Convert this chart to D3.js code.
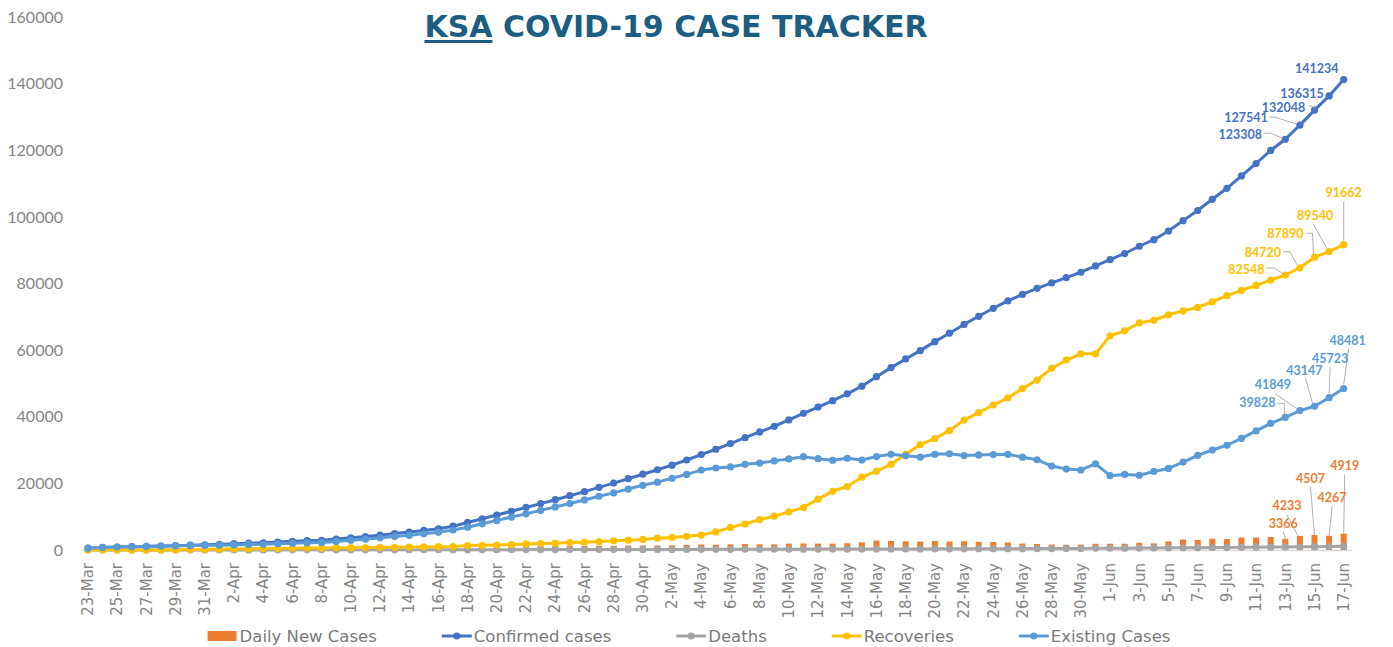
<!DOCTYPE html>
<html>
<head>
<meta charset="utf-8">
<script src="https://cdn.jsdelivr.net/npm/d3@7"></script>
<style>
  body { margin: 0; background: #fff; }
  svg { display: block; }
</style>
</head>
<body>
<div id="chart"></div>
<script>
// categories (one per day, 23-Mar .. 17-Jun)
let dates = [
  "23-Mar","24-Mar","25-Mar","26-Mar","27-Mar","28-Mar","29-Mar","30-Mar","31-Mar",
  "1-Apr","2-Apr","3-Apr","4-Apr","5-Apr","6-Apr","7-Apr","8-Apr","9-Apr","10-Apr",
  "11-Apr","12-Apr","13-Apr","14-Apr","15-Apr","16-Apr","17-Apr","18-Apr","19-Apr","20-Apr",
  "21-Apr","22-Apr","23-Apr","24-Apr","25-Apr","26-Apr","27-Apr","28-Apr","29-Apr","30-Apr",
  "1-May","2-May","3-May","4-May","5-May","6-May","7-May","8-May","9-May","10-May",
  "11-May","12-May","13-May","14-May","15-May","16-May","17-May","18-May","19-May","20-May",
  "21-May","22-May","23-May","24-May","25-May","26-May","27-May","28-May","29-May","30-May","31-May",
  "1-Jun","2-Jun","3-Jun","4-Jun","5-Jun","6-Jun","7-Jun","8-Jun","9-Jun","10-Jun",
  "11-Jun","12-Jun","13-Jun","14-Jun","15-Jun","16-Jun","17-Jun"
];

let dailyNew = [
  51,205,133,112,92,99,96,154,110,
  157,165,154,140,223,203,190,137,355,364,
  382,429,472,435,493,518,762,1132,1088,1122,
  1147,1141,1158,1172,1197,1223,1289,1266,1325,1351,
  1344,1362,1552,1645,1595,1687,1793,1701,1704,1912,
  1966,1911,1905,2039,2307,2840,2736,2593,2509,2691,
  2532,2642,2442,2399,2235,1931,1815,1644,1581,1618,1877,
  1881,1869,2171,1975,2591,3121,3045,3369,3288,3717,
  3733,3921,3366,4233,4507,4267,4919
];

let confirmed = [
  562,767,900,1012,1104,1203,1299,1453,1563,
  1720,1885,2039,2179,2402,2605,2795,2932,3287,3651,
  4033,4462,4934,5369,5862,6380,7142,8274,9362,10484,
  11631,12772,13930,15102,16299,17522,18811,20077,21402,22753,
  24097,25459,27011,28656,30251,31938,33731,35432,37136,39048,
  41014,42925,44830,46869,49176,52016,54752,57345,59854,62545,
  65077,67719,70161,72560,74795,76726,78541,80185,81766,83384,85261,
  87142,89011,91182,93157,95748,98869,101914,105283,108571,112288,
  116021,119942,123308,127541,132048,136315,141234
];

let deaths = [
  0,1,1,3,3,4,8,8,10,
  16,21,25,29,34,38,41,41,44,47,
  52,59,65,73,79,83,87,92,97,103,
  109,114,121,127,136,139,144,152,157,162,
  169,176,184,191,200,209,219,229,239,246,
  255,264,273,283,292,302,312,320,329,339,
  351,364,379,390,399,411,425,441,458,480,503,
  525,549,579,611,642,676,712,746,783,819,
  857,893,932,972,1011,1052,1091
];

let recoveries = [
  19,28,29,33,35,37,66,115,165,
  264,328,351,420,488,551,615,631,666,685,
  720,761,805,889,931,990,1049,1329,1398,1490,
  1640,1812,1925,2049,2215,2357,2531,2784,2953,3163,
  3555,3765,4134,4476,5431,6783,7798,9120,10144,11457,
  12737,15257,17622,19051,21869,23666,25722,28748,31634,33478,
  35836,39003,41236,43520,45668,48450,51022,54553,57013,58883,58883,
  64306,65790,68159,68965,70616,71791,72817,74524,76339,77954,
  79415,81029,82548,84720,87890,89540,91662
];

let existing = [
  543,738,870,976,1066,1162,1225,1330,1388,
  1440,1536,1663,1730,1880,2016,2139,2260,2577,2919,
  3261,3642,4064,4407,4852,5307,6006,6853,7867,8891,
  9882,10846,11884,12926,13948,15026,16136,17141,18292,19428,
  20373,21518,22693,23989,24620,24946,25714,26083,26753,27345,
  28022,27404,26935,27535,27015,28048,28718,28277,27891,28728,
  28890,28352,28546,28650,28728,27865,27094,25191,24295,24021,25875,
  22311,22672,22444,23581,24490,26402,28385,30013,31449,33515,
  35749,38020,39828,41849,43147,45723,48481
];

let yTicks = [0,20000,40000,60000,80000,100000,120000,140000,160000];

// data labels on the last days: [series, day index, dx, dy, leader points relative to the mark]
let dataLabels = [
  ["confirmed", 86, -27, -6.5, null],
  ["confirmed", 85, -27, 2, null],
  ["confirmed", 84, -31, 2, [[-6,-4],[-2,-4],[0,-1]]],
  ["confirmed", 83, -54, -3, [[-30,-8],[-25,-8],[-3,-1]]],
  ["confirmed", 82, -45, 0, [[-22,-6],[-15,-6],[-2,-1]]],
  ["recoveries", 86, 0, -47.6, [[0,-43],[0,-4]]],
  ["recoveries", 85, -14, -32, [[-16,-28],[-2,-3]]],
  ["recoveries", 84, -29, -19, [[-8,-24],[-2,-24],[-1,-3]]],
  ["recoveries", 83, -37, -11, [[-17,-16],[-10,-16],[-3,-3]]],
  ["recoveries", 82, -39, -1, [[-19,-7],[-11,-7],[-2,-1]]],
  ["existing", 86, 4, -43.5, [[5,-40],[0,-4]]],
  ["existing", 85, 1, -35, [[1,-31],[0,-4]]],
  ["existing", 84, -10, -31, [[-9,-28],[-2,-3]]],
  ["existing", 83, -27, -22, [[-25,-17],[-3,-2]]],
  ["existing", 82, -28, -10, [[-8,-14],[-1,-14],[-1,-3]]],
  ["daily", 86, 1, -63.6, [[1,-59],[0,-1]]],
  ["daily", 85, 3, -34, [[3,-29],[0,0]]],
  ["daily", 84, -4, -52, [[-4,-48],[0,0]]],
  ["daily", 83, -13, -26, [[-13,-21],[-2,0]]],
  ["daily", 82, -2, -11, [[-2,-7],[0,0]]]
];

let seriesData = {
  daily: dailyNew, confirmed: confirmed, deaths: deaths,
  recoveries: recoveries, existing: existing
};
let colors = {
  daily: "#ED7D31", confirmed: "#4472C4", deaths: "#A5A5A5",
  recoveries: "#FFC000", existing: "#5B9BD5"
};
let legendItems = [
  {key: "daily", name: "Daily New Cases", type: "bar"},
  {key: "confirmed", name: "Confirmed cases", type: "line"},
  {key: "deaths", name: "Deaths", type: "line"},
  {key: "recoveries", name: "Recoveries", type: "line"},
  {key: "existing", name: "Existing Cases", type: "line"}
];

let width = 1393, height = 647;
let axisFont = "'DejaVu Sans', sans-serif";
let numFont = "Lato, 'DejaVu Sans', sans-serif";

let svg = d3.select("#chart").append("svg")
  .attr("width", width)
  .attr("height", height);

let x = d3.scaleBand().domain(dates).range([80.7, 1351]);
let y = d3.scaleLinear().domain([0, 160000]).range([550, 17]);
let cx = function(d) { return x(d) + x.bandwidth() / 2; };

// Y axis
let yAxis = svg.append("g")
  .attr("transform", "translate(63,0)")
  .call(d3.axisLeft(y).tickValues(yTicks).tickSize(0).tickPadding(0).tickFormat(d3.format("d")));
yAxis.select(".domain").remove();
yAxis.selectAll("text")
  .attr("fill", "#858585")
  .style("font-family", numFont)
  .style("font-size", "16px");

// X axis
let xAxis = svg.append("g")
  .attr("transform", "translate(0,550)")
  .call(d3.axisBottom(x).tickValues(dates.filter(function(d, i) { return i % 2 == 0; })).tickSize(0));
xAxis.select(".domain").attr("stroke", "#d9d9d9").attr("stroke-width", 1.5);
xAxis.selectAll("text")
  .attr("transform", "rotate(-90)")
  .attr("text-anchor", "end")
  .attr("x", -13)
  .attr("y", 0)
  .attr("dy", "0.35em")
  .attr("fill", "#858585")
  .style("font-family", axisFont)
  .style("font-size", "15px");

// bars
let barW = 6;
svg.append("g").selectAll("rect")
  .data(dailyNew)
  .enter().append("rect")
  .attr("x", function(d, i) { return cx(dates[i]) - barW / 2; })
  .attr("y", function(d) { return y(d); })
  .attr("width", barW)
  .attr("height", function(d) { return y(0) - y(d); })
  .attr("fill", colors.daily);

// lines with markers
let line = d3.line()
  .x(function(d, i) { return cx(dates[i]); })
  .y(function(d) { return y(d); });

["confirmed", "deaths", "recoveries", "existing"].forEach(function(key) {
  let g = svg.append("g");
  g.append("path")
    .datum(seriesData[key])
    .attr("d", line)
    .attr("fill", "none")
    .attr("stroke", colors[key])
    .attr("stroke-width", 3)
    .attr("stroke-linejoin", "round");
  g.selectAll("circle")
    .data(seriesData[key])
    .enter().append("circle")
    .attr("cx", function(d, i) { return cx(dates[i]); })
    .attr("cy", function(d) { return y(d); })
    .attr("r", 3.6)
    .attr("fill", colors[key]);
});

// data labels
let lbl = svg.append("g");
dataLabels.forEach(function(l) {
  let key = l[0], i = l[1];
  let px = cx(dates[i]), py = y(seriesData[key][i]);
  if (l[4]) {
    lbl.append("polyline")
      .attr("points", l[4].map(function(p) { return (px + p[0]) + "," + (py + p[1]); }).join(" "))
      .attr("fill", "none")
      .attr("stroke", "#a6a6a6")
      .attr("stroke-width", 0.9);
  }
  lbl.append("text")
    .attr("x", px + l[2])
    .attr("y", py + l[3])
    .attr("text-anchor", "middle")
    .attr("fill", colors[key])
    .style("font-family", numFont)
    .style("font-weight", "bold")
    .style("font-size", "12.5px")
    .text(seriesData[key][i]);
});

// title
let title = svg.append("g");
let t1 = title.append("text")
  .attr("y", 37)
  .attr("fill", "#1b5e82")
  .style("font-family", axisFont)
  .style("font-weight", "bold")
  .style("font-size", "30px")
  .text("KSA");
let t2 = title.append("text")
  .attr("y", 37)
  .attr("fill", "#1b5e82")
  .style("font-family", axisFont)
  .style("font-weight", "bold")
  .style("font-size", "30px")
  .style("white-space", "pre")
  .text(" COVID-19 CASE TRACKER");
let w1 = t1.node().getComputedTextLength();
let w2 = t2.node().getComputedTextLength();
let tx = 676 - (w1 + w2) / 2;
t1.attr("x", tx);
t2.attr("x", tx + w1);
title.append("rect")
  .attr("x", tx).attr("y", 40)
  .attr("width", w1).attr("height", 3)
  .attr("fill", "#1b5e82");

// legend
let leg = svg.append("g");
let legY = 636;
let items = legendItems.map(function(it) {
  let g = leg.append("g");
  if (it.type == "bar") {
    g.append("rect").attr("x", 0).attr("y", -5).attr("width", 29).attr("height", 10)
      .attr("fill", colors[it.key]);
  } else {
    g.append("line").attr("x1", 0).attr("x2", 30).attr("y1", 0).attr("y2", 0)
      .attr("stroke", colors[it.key]).attr("stroke-width", 3);
    g.append("circle").attr("cx", 15).attr("cy", 0).attr("r", 3.6).attr("fill", colors[it.key]);
  }
  let t = g.append("text")
    .attr("x", 32)
    .attr("dy", "0.36em")
    .attr("fill", "#7a7a7a")
    .style("font-family", axisFont)
    .style("font-size", "16.5px")
    .text(it.name);
  return {g: g, w: 32 + t.node().getComputedTextLength()};
});
let gap = 65;
let total = d3.sum(items, function(d) { return d.w; }) + gap * (items.length - 1);
let lx = 689 - total / 2;
items.forEach(function(d) {
  d.g.attr("transform", "translate(" + lx + "," + legY + ")");
  lx += d.w + gap;
});
</script>
</body>
</html>
